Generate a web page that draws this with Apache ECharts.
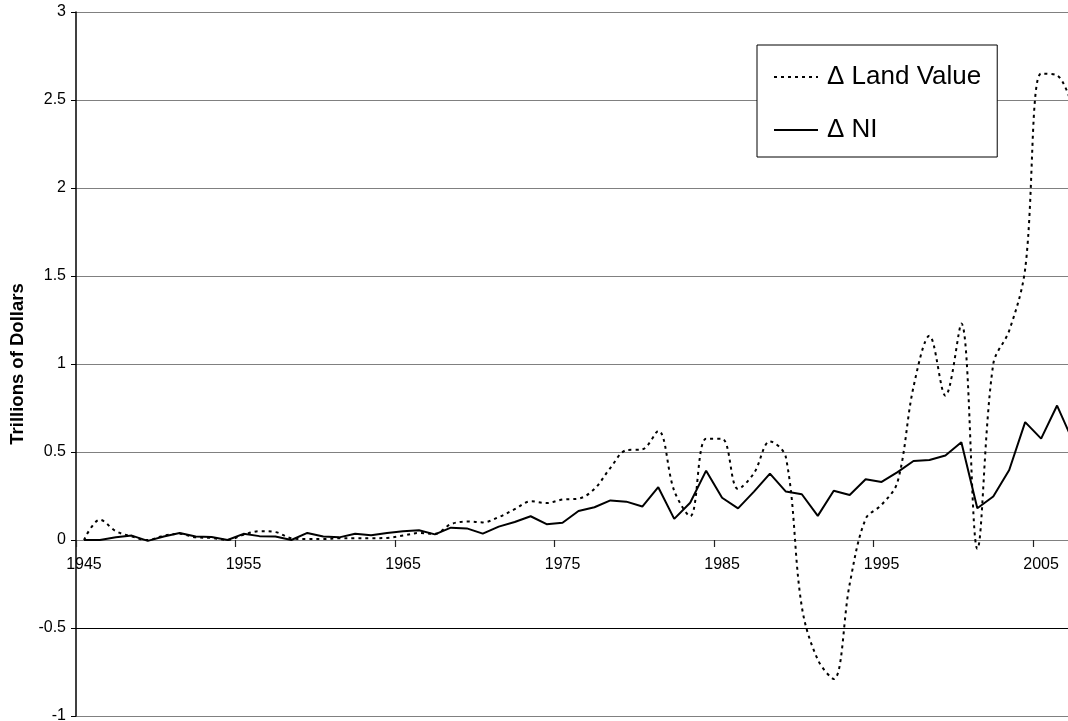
<!DOCTYPE html>
<html>
<head>
<meta charset="utf-8">
<script src="https://cdn.jsdelivr.net/npm/echarts@6/dist/echarts.min.js"></script>
<style>
html,body{margin:0;padding:0;background:#fff;}
#chart{width:1068px;height:721px;}
</style>
</head>
<body>
<div id="chart"></div>
<script>
var years = [];
for (var y = 1945; y <= 2007; y++) years.push(String(y));

var landValue = [
  0.0, 0.115, 0.05, 0.02, 0.0, 0.025, 0.035, 0.015, 0.012, 0.0,
  0.03, 0.05, 0.045, 0.01, 0.005, 0.005, 0.01, 0.01, 0.01, 0.012,
  0.025, 0.04, 0.035, 0.09, 0.105, 0.10, 0.13, 0.175, 0.22, 0.21,
  0.23, 0.235, 0.29, 0.41, 0.51, 0.515, 0.62, 0.28, 0.135, 0.575,
  0.575, 0.29, 0.38, 0.56, 0.47, -0.38, -0.68, -0.79, -0.25, 0.12,
  0.2, 0.33, 0.87, 1.16, 0.82, 1.23, -0.05, 1.0, 1.19, 1.54,
  2.65, 2.64, 2.45
];

var nationalIncome = [
  0.0, 0.0, 0.015, 0.025, -0.005, 0.02, 0.04, 0.02, 0.017, 0.0,
  0.035, 0.022, 0.02, 0.0, 0.04, 0.02, 0.015, 0.035, 0.027, 0.04,
  0.05, 0.055, 0.032, 0.07, 0.066, 0.036, 0.076, 0.102, 0.135, 0.09,
  0.098, 0.165, 0.186, 0.225, 0.218, 0.19, 0.30, 0.12, 0.212, 0.394,
  0.24, 0.18, 0.275, 0.377, 0.275, 0.26, 0.137, 0.28, 0.256, 0.345,
  0.33, 0.386, 0.449, 0.455, 0.48, 0.555, 0.18, 0.247, 0.398, 0.67,
  0.576, 0.764, 0.56
];

var seriesNames = ['\u0394 Land Value', '\u0394 NI'];
var yAxisTitle = 'Trillions of Dollars';

var chart = echarts.init(document.getElementById('chart'), null, {renderer: 'canvas'});
var font = 'Liberation Sans, Arial, sans-serif';
var gridColors = ['#808080', '#000000', '#808080', '#808080', '#808080', '#808080', '#808080', '#808080', '#808080'];
var plotTop = 12, plotBottom = 716, yMin = -1, yMax = 3;
var zeroOffset = (plotBottom - plotTop) * (0 - yMin) / (yMax - yMin);

chart.setOption({
  backgroundColor: '#ffffff',
  animation: false,
  textStyle: {fontFamily: font, color: '#000'},
  grid: {left: 76, top: plotTop, width: 1005, height: plotBottom - plotTop, containLabel: false, outerBoundsMode: 'none'},
  legend: {
    orient: 'vertical',
    left: 757,
    top: 45,
    data: seriesNames,
    backgroundColor: '#ffffff',
    borderColor: '#000000',
    borderWidth: 1,
    padding: [19, 16, 14, 16],
    itemWidth: 44,
    itemHeight: 26,
    itemGap: 27,
    itemStyle: {opacity: 0},
    textStyle: {fontFamily: font, fontSize: 26, color: '#000', padding: [0, 0, 0, 4]}
  },
  xAxis: {
    type: 'category',
    data: years,
    boundaryGap: true,
    position: 'bottom',
    offset: -zeroOffset,
    axisLine: {onZero: false, lineStyle: {color: '#808080', width: 1}},
    axisTick: {show: true, interval: 9, length: 7, inside: false, lineStyle: {color: '#222', width: 1.2}},
    axisLabel: {interval: 9, margin: 17, fontSize: 16, color: '#000', fontFamily: font},
    splitLine: {show: false}
  },
  yAxis: {
    type: 'value',
    min: yMin,
    max: yMax,
    interval: 0.5,
    name: yAxisTitle,
    nameLocation: 'middle',
    nameGap: 48,
    nameRotate: 90,
    nameTextStyle: {fontFamily: font, fontSize: 18.5, fontWeight: 'bold', color: '#000'},
    axisLine: {show: true, lineStyle: {color: '#000', width: 1.5}},
    axisTick: {show: true, length: 5, lineStyle: {color: '#000'}},
    axisLabel: {margin: 10, fontSize: 16, color: '#000', fontFamily: font},
    splitLine: {show: true, lineStyle: {color: gridColors, width: 1.2}}
  },
  series: [
    {
      name: seriesNames[0],
      type: 'line',
      data: landValue,
      smooth: 0.35,
      symbol: 'none',
      showSymbol: false,
      lineStyle: {color: '#000', width: 2, type: [3, 4]},
      itemStyle: {color: '#000'},
      z: 3
    },
    {
      name: seriesNames[1],
      type: 'line',
      data: nationalIncome,
      smooth: false,
      symbol: 'none',
      showSymbol: false,
      lineStyle: {color: '#000', width: 2, type: 'solid'},
      itemStyle: {color: '#000'},
      z: 4
    }
  ]
});
</script>
</body>
</html>
